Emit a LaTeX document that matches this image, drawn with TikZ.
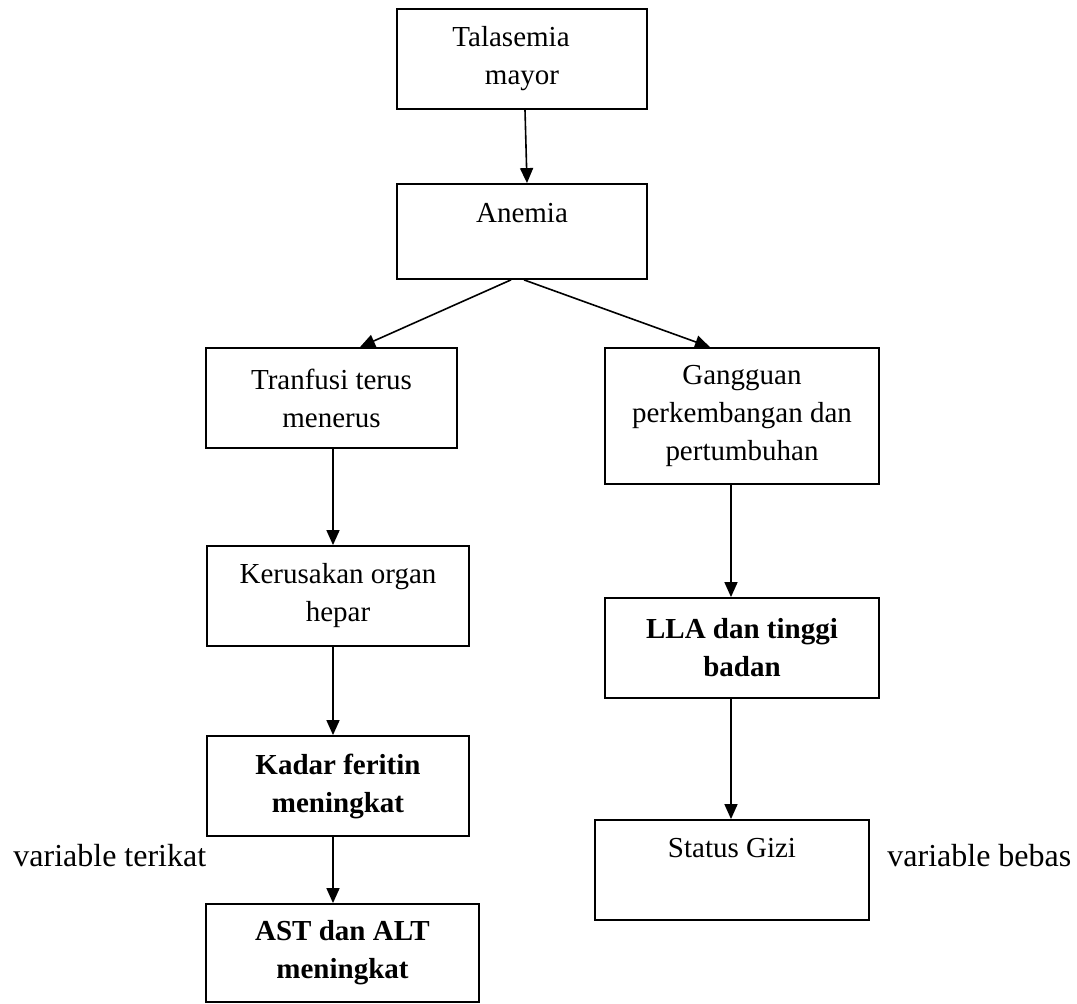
\documentclass[tikz,border=0pt]{standalone}
\usepackage{fontspec}
\setmainfont{Liberation Serif}
\usetikzlibrary{arrows.meta}

\begin{document}
\begin{tikzpicture}[x=0.5pt, y=-0.5pt,
	box/.style={draw, line width=0.9pt, inner sep=0pt, align=center,
		font=\fontsize{14.5}{19}\selectfont},
	arr/.style={line width=0.8pt, -{Triangle[length=7.5pt,width=6.5pt]}},
	lbl/.style={inner sep=0pt, font=\fontsize{16}{19}\selectfont}]

	\useasboundingbox (0,0) rectangle (1077,1004);

	\node[box, minimum width=125pt, minimum height=50pt] (Tal) at (522,59) {Talasemia\hspace*{11pt}\\mayor};
	\node[box, minimum width=125pt, text height=19.5pt, text depth=28pt] (Ane) at (522,231.5) {Anemia};

	\node[box, minimum width=125.5pt, minimum height=50pt] (Tra) at (331.5,398) {Tranfusi terus\\menerus};
	\node[box, minimum width=131pt, minimum height=50pt] (Ker) at (338,596) {Kerusakan organ\\hepar};
	\node[box, minimum width=131pt, minimum height=50pt] (Kad) at (338,786) {\bfseries Kadar feritin\\\bfseries meningkat};
	\node[box, minimum width=136.5pt, minimum height=49pt] (AST) at (342.5,953) {\bfseries AST dan ALT\\\bfseries meningkat};

	\node[box, minimum width=137pt, minimum height=68pt] (Gan) at (742,416) {Gangguan\\perkembangan dan\\pertumbuhan};
	\node[box, minimum width=137pt, minimum height=50pt] (LLA) at (742,648) {\bfseries LLA dan tinggi\\\bfseries badan};
	\node[box, minimum width=137pt, text height=19pt, text depth=31pt] (Sta) at (732,870) {Status Gizi};

	\node[lbl, anchor=base west] (Ter) at (13,867) {variable terikat};
	\node[lbl, anchor=base west] (Beb) at (887,867) {variable bebas};

	\draw[arr] ([xshift=1.5pt]Tal.south) -- ([xshift=2.5pt]Ane.north);
	\draw[arr] ([xshift=-5.5pt]Ane.south) -- ([xshift=14.25pt]Tra.north);
	\draw[arr] ([xshift=1pt]Ane.south) -- ([xshift=-16pt]Gan.north);

	\draw[arr] ([xshift=0.75pt]Tra.south) -- ([xshift=-2.5pt]Ker.north);
	\draw[arr] ([xshift=-2.5pt]Ker.south) -- ([xshift=-2.5pt]Kad.north);
	\draw[arr] ([xshift=-2.5pt]Kad.south) -- ([xshift=-4.75pt]AST.north);

	\draw[arr] ([xshift=-5.5pt]Gan.south) -- ([xshift=-5.5pt]LLA.north);
	\draw[arr] ([xshift=-5.5pt]LLA.south) -- ([xshift=-0.5pt]Sta.north);

\end{tikzpicture}
\end{document}
